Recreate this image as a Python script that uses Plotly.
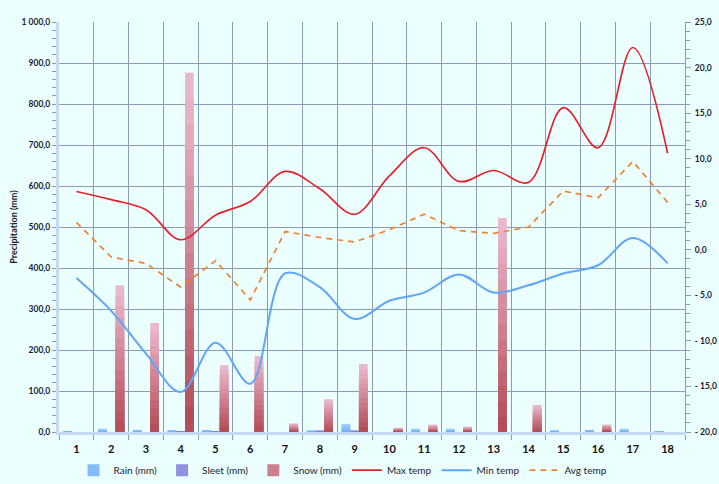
import plotly.graph_objects as go

# ---------------- data ----------------
days = list(range(1, 19))
rain = [0.5, 8, 5, 4, 5, 0, 0, 3, 20, 0, 8, 8, 0, 0, 3, 5, 8, 2]
sleet = [0, 0, 0, 1, 2, 0, 0, 3, 3, 0, 0, 0, 0, 0, 0, 0, 0, 0]
snow = [0, 358, 266, 876, 163, 185, 21, 80, 166, 10.5, 18, 13, 522, 66, 0, 18, 0, 0]
max_temp = [6.4, 5.5, 4.4, 1.1, 3.8, 5.3, 8.6, 6.7, 3.9, 8.1, 11.2, 7.5, 8.7, 7.4, 15.6, 11.2, 22.2, 10.6]
min_temp = [-3.1, -6.7, -11.4, -15.6, -10.2, -14.7, -2.6, -4.1, -7.6, -5.6, -4.7, -2.7, -4.7, -3.9, -2.6, -1.7, 1.3, -1.5]
avg_temp = [3.0, -0.8, -1.5, -4.1, -1.2, -5.5, 2.0, 1.35, 0.85, 2.2, 3.9, 2.1, 1.8, 2.5, 6.45, 5.7, 9.7, 5.2]
precip_ticks = [0, 100, 200, 300, 400, 500, 600, 700, 800, 900, 1000]
temp_ticks = [-20, -15, -10, -5, 0, 5, 10, 15, 20, 25]

def temp_label(v):
    s = f"{abs(v):.1f}".replace(".", ",")
    return ("- " + s) if v < 0 else s

temp_labels = [temp_label(v) for v in temp_ticks]

BG = "#EBFFFE"
GRID = "#8C9BB5"
FONT = "Lato"
TXT = "#1B1B33"

fig = go.Figure()

BW = 0.25

def lerp(c1, c2, t):
    return "rgb(%d,%d,%d)" % tuple(round(a + (b - a) * t) for a, b in zip(c1, c2))

def gradient_bars(vals, top, bottom, offset, name, rank, n=14):
    for k in range(n):
        frac = (n - k) / n
        col = lerp(top, bottom, k / (n - 1))
        fig.add_trace(go.Bar(
            x=days, y=[v * frac for v in vals], width=BW, offset=offset,
            marker=dict(color=col, line=dict(width=0)),
            name=name, legendgroup=name, legendrank=rank,
            showlegend=(k == n // 2), hoverinfo="skip" if k else None,
        ))

gradient_bars(rain, (160, 205, 255), (120, 180, 245), -0.375, "Rain (mm)", 1, n=4)
gradient_bars(sleet, (175, 175, 240), (130, 130, 215), -0.125, "Sleet (mm)", 2, n=4)
gradient_bars(snow, (234, 184, 206), (180, 78, 88), 0.125, "Snow (mm)", 3)

fig.add_trace(go.Scatter(x=days, y=max_temp, name="Max temp", yaxis="y2",
                         mode="lines", line=dict(color="#E8202A", width=1.7, shape="spline", smoothing=1),
                         legendrank=4))
fig.add_trace(go.Scatter(x=days, y=min_temp, name="Min temp", yaxis="y2",
                         mode="lines", line=dict(color="#5FA6F5", width=2, shape="spline", smoothing=1),
                         legendrank=5))
fig.add_trace(go.Scatter(x=days, y=avg_temp, name="Avg temp", yaxis="y2",
                         mode="lines", line=dict(color="#F08232", width=1.7, dash="6px,5px"),
                         legendrank=6))

fig.update_layout(
    width=719, height=484,
    margin=dict(l=59, r=34, t=22, b=52, autoexpand=False),
    paper_bgcolor=BG, plot_bgcolor=BG,
    barmode="overlay",
    separators=", ",
    font=dict(family=FONT, color=TXT, size=9),
    showlegend=True,
    legend=dict(orientation="h", x=0.4537, xanchor="center", y=-0.093, yanchor="middle",
                font=dict(family=FONT, size=10, color=TXT), bgcolor="rgba(0,0,0,0)",
                traceorder="normal", itemwidth=30),
    xaxis=dict(range=[0.5, 18.5], tickvals=days, ticktext=[str(d) for d in days],
               showgrid=False, ticks="", zeroline=False, ticklabelstandoff=5, automargin=False,
               tickfont=dict(family=FONT, size=11, color="#111111", weight="bold"),
               showline=True, linecolor="#C4DBF3", linewidth=3,
               minor=dict(tick0=0.5, dtick=1, showgrid=True, gridcolor=GRID, gridwidth=1.2,
                          ticks="outside", ticklen=5, tickcolor=GRID, tickwidth=1)),
    yaxis=dict(range=[0, 1000], tickvals=precip_ticks, tickformat=",.1f", automargin=False,
               showgrid=True, gridcolor=GRID, gridwidth=1.2, zeroline=False,
               showline=True, linecolor="#C4DBF3", linewidth=3,
               ticks="outside", ticklen=4, tickcolor=GRID,
               tickfont=dict(family=FONT, size=8.5, color=TXT, weight="bold"),
               title=dict(text="Precipitation (mm)", standoff=3,
                          font=dict(family=FONT, size=9, color=TXT, weight="bold")),
               minor=dict(dtick=20, ticks="outside", ticklen=4, tickcolor=GRID, showgrid=False)),
    yaxis2=dict(range=[-20, 25], overlaying="y", side="right", tickvals=temp_ticks,
                ticktext=temp_labels, showgrid=False, zeroline=False, automargin=False,
                showline=True, linecolor=GRID, linewidth=1.2,
                ticks="outside", ticklen=5, tickcolor=GRID, ticklabelstandoff=2,
                tickfont=dict(family=FONT, size=8.5, color=TXT, weight="bold"),
                minor=dict(dtick=1, ticks="outside", ticklen=4, tickcolor=GRID, showgrid=False)),
)

fig.write_html("out.html")
